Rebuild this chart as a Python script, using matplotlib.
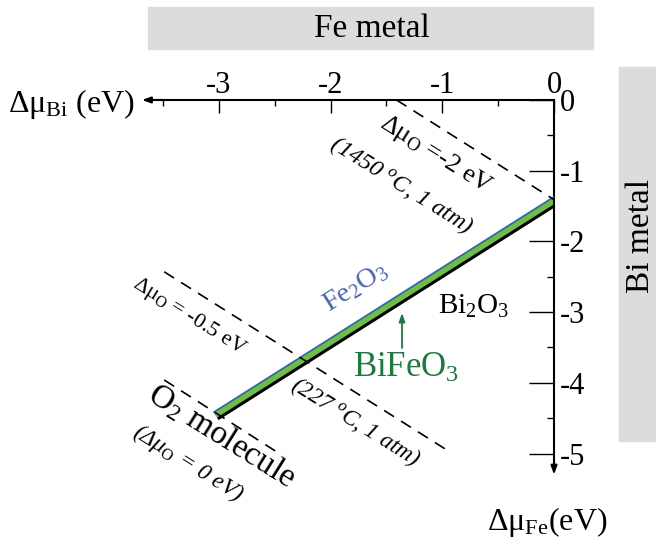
import matplotlib
matplotlib.use("Agg")
import matplotlib.pyplot as plt
from matplotlib.patches import Rectangle, Polygon

plt.rcParams['font.family'] = ['Liberation Serif', 'DejaVu Serif']
plt.rcParams['mathtext.fontset'] = 'custom'
plt.rcParams['mathtext.rm'] = 'Liberation Serif'
plt.rcParams['mathtext.it'] = 'Liberation Serif:italic'
plt.rcParams['mathtext.bf'] = 'Liberation Serif:bold'

# ---- data ----
xticks_major = [-3, -2, -1, 0]
xticks_minor = [-3.5, -2.5, -1.5, -0.5]
xtick_labels = ['-3', '-2', '-1', '0']
yticks_major = [0, -1, -2, -3, -4, -5]
yticks_minor = [-0.5, -1.5, -2.5, -3.5, -4.5]
ytick_labels = ['0', '-1', '-2', '-3', '-4', '-5']

# stability band of BiFeO3 (x = dmu_Bi, y = dmu_Fe)
band_top_x = [-3.05, 0.0]
band_top_y = [-4.42, -1.37]
band_bot_x = [-3.01, 0.0]
band_bot_y = [-4.51, -1.50]

# constant dmu_O lines (dmu_Bi + dmu_Fe = const)
line_m2_x = [-1.41, 0.0]
line_m2_y = [0.0, -1.41]
line_m05_x = [-3.49, -0.92]
line_m05_y = [-2.43, -4.99]
line_0_x = [-3.49, -2.44]
line_0_y = [-3.96, -5.02]

W, H = 656, 545
fig = plt.figure(figsize=(W / 100, H / 100), dpi=100)
ax = fig.add_axes([0, 0, 1, 1])
ax.set_xlim(-4.96, 0.913)
ax.set_ylim(-6.294, 1.414)
ax.patch.set_alpha(0)

def fx(px):
    return px / W

def fy(py):
    return 1 - py / H

# gray boxes
fig.patches.append(Rectangle((fx(148), fy(49)), (593 - 148) / W, (49 - 7) / H,
                             transform=fig.transFigure, color='#dcdcdc', zorder=0))
fig.patches.append(Rectangle((fx(619), fy(441)), (W - 619) / W, (441 - 67) / H,
                             transform=fig.transFigure, color='#dcdcdc', zorder=0))
fig.text(fx(372), fy(29), 'Fe metal', ha='center', va='center', fontsize=24)
fig.text(fx(641), fy(236), 'Bi metal', ha='center', va='center', fontsize=24, rotation=90)

# spines / axes
for s in ['left', 'bottom']:
    ax.spines[s].set_visible(False)
ax.spines['top'].set_position(('data', 0))
ax.spines['right'].set_position(('data', 0))
ax.spines['top'].set_bounds(-3.6, 0)
ax.spines['right'].set_bounds(-5.2, 0)
ax.spines['top'].set_linewidth(1.5)
ax.spines['right'].set_linewidth(1.5)
ax.xaxis.set_ticks_position('top')
ax.yaxis.set_ticks_position('right')
ax.set_xticks(xticks_major)
ax.set_xticks(xticks_minor, minor=True)
ax.set_xticklabels(xtick_labels, fontsize=22)
ax.set_yticks(yticks_major)
ax.set_yticks(yticks_minor, minor=True)
ax.set_yticklabels(ytick_labels, fontsize=22)
ax.xaxis.set_tick_params(which='major', direction='in', length=9.5, width=1.0, pad=0)
ax.xaxis.set_tick_params(which='minor', direction='in', length=4.5, width=1.0)
ax.yaxis.set_tick_params(which='major', direction='in', length=18, width=1.0, pad=4)
ax.yaxis.set_tick_params(which='minor', direction='in', length=5, width=1.0)

ax.annotate('', xy=(-3.69, 0), xytext=(-3.5, 0),
            arrowprops=dict(arrowstyle='-|>,head_length=0.5,head_width=0.18', lw=1.5, color='black',
                            shrinkA=0, shrinkB=0))
ax.annotate('', xy=(0, -5.3), xytext=(0, -5.1),
            arrowprops=dict(arrowstyle='-|>,head_length=0.5,head_width=0.18', lw=1.5, color='black',
                            shrinkA=0, shrinkB=0))

# dashed lines
for lx, ly in [(line_m2_x, line_m2_y), (line_m05_x, line_m05_y), (line_0_x, line_0_y)]:
    ax.plot(lx, ly, color='black', lw=1.2, ls=(0, (7, 5)), zorder=4)

# band
poly = Polygon([(band_top_x[0], band_top_y[0]), (band_top_x[1], band_top_y[1]),
                (band_bot_x[1], band_bot_y[1]), (band_bot_x[0], band_bot_y[0])],
               closed=True, facecolor='#6cbf45', edgecolor='none', zorder=2)
ax.add_patch(poly)
ax.plot(band_top_x, band_top_y, color='#3f5fb5', lw=1.3, zorder=3, solid_capstyle='butt')
ax.plot(band_bot_x, band_bot_y, color='black', lw=2.2, zorder=3, solid_capstyle='butt')

# axis labels
fig.text(fx(72), fy(104), r'Δμ$_{\rm Bi}$ (eV)', ha='center', va='center', fontsize=23)
fig.text(fx(547), fy(522), r'Δμ$_{\rm Fe}$(eV)', ha='center', va='center', fontsize=23)

# annotations
fig.text(fx(436), fy(155), r'Δμ$_{\rm O}$ =-2 eV', ha='center', va='center',
         fontsize=19, rotation=-32)
fig.text(fx(401), fy(185), r'(1450 $^{o}$C, 1 atm)', ha='center', va='center',
         fontsize=17.5, rotation=-32, style='italic')
fig.text(fx(189), fy(317), r'Δμ$_{\rm O}$ = -0.5 eV', ha='center', va='center',
         fontsize=16, rotation=-32)
fig.text(fx(356), fy(422), r'(227 $^{o}$C, 1 atm)', ha='center', va='center',
         fontsize=17, rotation=-32, style='italic')
fig.text(fx(222), fy(436), r'O$_2$ molecule', ha='center', va='center',
         fontsize=24, rotation=-32)
fig.text(fx(188), fy(463), r'(Δμ$_{\rm O}$ = 0 eV)', ha='center', va='center',
         fontsize=17, rotation=-32, style='italic')
fig.text(fx(355), fy(287), r'Fe$_2$O$_3$', ha='center', va='center', color='#4a64b8',
         fontsize=20.5, rotation=32)
fig.text(fx(474), fy(306), r'Bi$_2$O$_3$', ha='center', va='center', fontsize=21)
fig.text(fx(406), fy(368), r'BiFeO$_3$', ha='center', va='center', color='#1b7a3e', fontsize=25)
ax.annotate('', xy=(fx(402), fy(313)), xytext=(fx(402), fy(348)), xycoords='figure fraction',
            textcoords='figure fraction',
            arrowprops=dict(arrowstyle='-|>,head_length=0.5,head_width=0.18', lw=1.3,
                            color='#1b7a3e', shrinkA=0, shrinkB=0))

fig.savefig('out.png', dpi=100)
